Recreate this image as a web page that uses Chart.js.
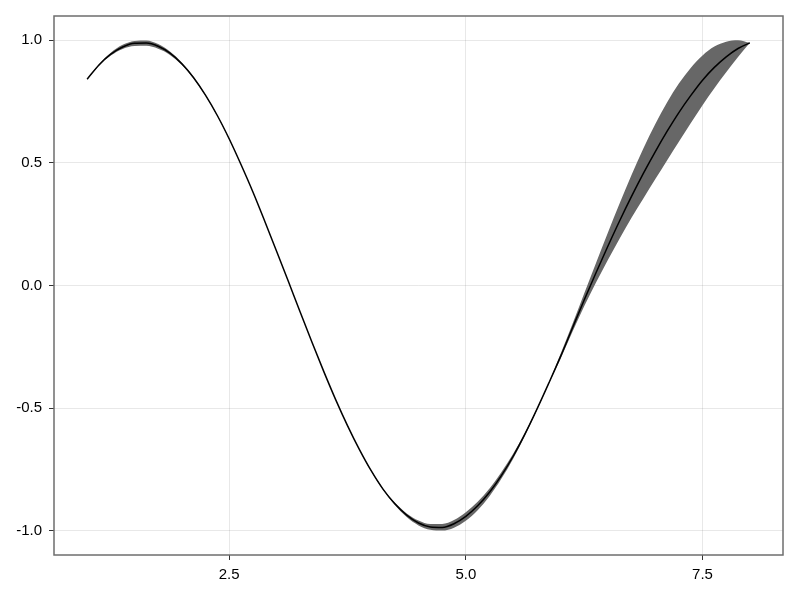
<!DOCTYPE html>
<html><head><meta charset="utf-8">
<script src="https://cdn.jsdelivr.net/npm/chart.js@4/dist/chart.umd.min.js"></script>
<style>html,body{margin:0;padding:0;background:#fff;}#wrap{width:800px;height:600px;position:relative;}</style>
</head><body><div id="wrap"><canvas id="c" width="800" height="600"></canvas></div>
<script>
const xValues = [
  1.000, 1.125, 1.250, 1.375, 1.500, 1.625, 1.750, 1.875, 2.000, 2.125, 2.250, 2.375, 2.500, 2.625, 2.750, 2.875,
  3.000, 3.125, 3.250, 3.375, 3.500, 3.625, 3.750, 3.875, 4.000, 4.125, 4.250, 4.375, 4.500, 4.625, 4.750, 4.875,
  5.000, 5.125, 5.250, 5.375, 5.500, 5.625, 5.750, 5.875, 6.000, 6.125, 6.250, 6.375, 6.500, 6.625, 6.750, 6.875,
  7.000, 7.125, 7.250, 7.375, 7.500, 7.625, 7.750, 7.875, 8.000];
const lineValues = [
  0.841, 0.899, 0.943, 0.972, 0.987, 0.988, 0.975, 0.947, 0.904, 0.847, 0.776, 0.693, 0.598, 0.493, 0.382, 0.263,
  0.141, 0.017, -0.108, -0.231, -0.351, -0.465, -0.571, -0.668, -0.755, -0.830, -0.890, -0.936, -0.968, -0.984, -0.986, -0.971,
  -0.941, -0.898, -0.843, -0.775, -0.696, -0.605, -0.505, -0.399, -0.290, -0.174, -0.059, 0.052, 0.160, 0.264, 0.363, 0.457,
  0.545, 0.628, 0.705, 0.774, 0.837, 0.889, 0.932, 0.966, 0.989];
const lowerValues = [
  0.841, 0.896, 0.937, 0.964, 0.976, 0.977, 0.965, 0.940, 0.899, 0.843, 0.773, 0.691, 0.597, 0.493, 0.381, 0.263,
  0.141, 0.017, -0.108, -0.231, -0.351, -0.465, -0.572, -0.669, -0.757, -0.833, -0.895, -0.944, -0.978, -0.996, -0.999, -0.987,
  -0.959, -0.916, -0.859, -0.788, -0.706, -0.612, -0.508, -0.401, -0.300, -0.190, -0.085, 0.012, 0.104, 0.192, 0.276, 0.355,
  0.433, 0.510, 0.586, 0.661, 0.735, 0.804, 0.869, 0.931, 0.989];
const upperValues = [
  0.841, 0.902, 0.949, 0.981, 0.997, 0.999, 0.984, 0.954, 0.909, 0.850, 0.778, 0.694, 0.599, 0.494, 0.382, 0.263,
  0.141, 0.017, -0.108, -0.231, -0.351, -0.465, -0.570, -0.667, -0.753, -0.827, -0.885, -0.929, -0.958, -0.972, -0.972, -0.956,
  -0.924, -0.881, -0.827, -0.761, -0.686, -0.599, -0.502, -0.397, -0.279, -0.158, -0.033, 0.092, 0.215, 0.335, 0.450, 0.558,
  0.657, 0.746, 0.823, 0.887, 0.938, 0.974, 0.994, 1.000, 0.989];
const xTickValues = [2.5, 5.0, 7.5];
const yTickValues = [-1.0, -0.5, 0.0, 0.5, 1.0];

function pts(ys) { return xValues.map((x, i) => ({ x: x, y: ys[i] })); }

const framePlugin = {
  id: 'frame',
  afterDraw(chart) {
    const { ctx, chartArea: a } = chart;
    ctx.save();
    ctx.strokeStyle = '#6e6e6e';
    ctx.lineWidth = 1.5;
    ctx.strokeRect(a.left, a.top, a.right - a.left, a.bottom - a.top);
    ctx.restore();
  }
};

const font = { family: 'Liberation Sans, Arial, sans-serif', size: 15 };
const gridCfg = { color: 'rgba(0,0,0,0.09)', lineWidth: 1, tickLength: 5, tickColor: '#333', drawTicks: true };
const common = { pointRadius: 0, cubicInterpolationMode: 'monotone' };

new Chart(document.getElementById('c'), {
  type: 'line',
  data: {
    datasets: [
      Object.assign({ label: 'line', data: pts(lineValues), borderColor: '#000', borderWidth: 1.5, fill: false, order: 0 }, common),
      Object.assign({ label: 'upper', data: pts(upperValues), borderColor: 'rgba(0,0,0,0)', borderWidth: 0, fill: { target: '+1' }, backgroundColor: '#676767', order: 1 }, common),
      Object.assign({ label: 'lower', data: pts(lowerValues), borderColor: 'rgba(0,0,0,0)', borderWidth: 0, fill: false, order: 1 }, common)
    ]
  },
  options: {
    responsive: false,
    animation: false,
    devicePixelRatio: 1,
    layout: { padding: { top: 16, right: 17, left: 0, bottom: 0 } },
    plugins: { legend: { display: false }, tooltip: { enabled: false } },
    scales: {
      x: {
        type: 'linear', min: 0.65, max: 8.35,
        afterBuildTicks: s => { s.ticks = xTickValues.map(v => ({ value: v })); },
        afterFit: s => { s.height = 45; },
        ticks: { font: font, color: '#000', padding: 6, maxRotation: 0, callback: v => Number(v).toFixed(1) },
        grid: gridCfg,
        border: { display: false }
      },
      y: {
        type: 'linear', min: -1.0985, max: 1.0985,
        afterBuildTicks: s => { s.ticks = yTickValues.map(v => ({ value: v })); },
        afterFit: s => { s.width = 54; },
        ticks: { font: font, color: '#000', padding: 7, callback: v => Number(v).toFixed(1) },
        grid: gridCfg,
        border: { display: false }
      }
    }
  },
  plugins: [framePlugin]
});
</script>
</body></html>
